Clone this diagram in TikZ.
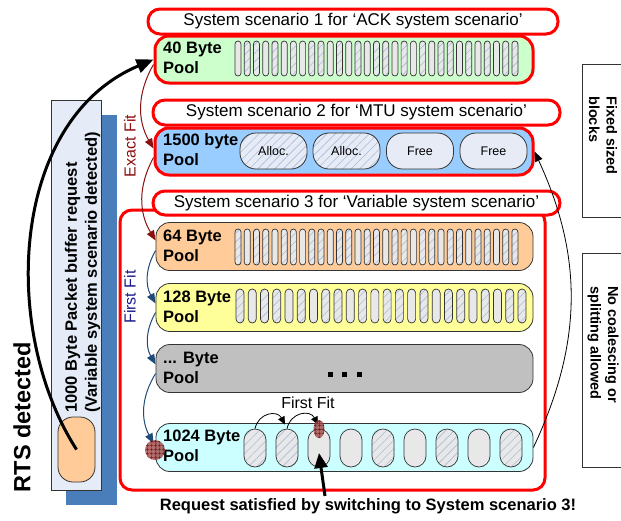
\documentclass[tikz,border=0pt]{standalone}
\usepackage{fontspec}
\setmainfont{Liberation Sans}
\usetikzlibrary{arrows.meta,patterns.meta,shapes.geometric}

\definecolor{poolgreen}{HTML}{CCFFCC}
\definecolor{poolblue}{HTML}{99CCFF}
\definecolor{poolorange}{HTML}{FFCC99}
\definecolor{poolyellow}{HTML}{FFFF99}
\definecolor{poolgray}{HTML}{C0C0C0}
\definecolor{poolcyan}{HTML}{CCFFFF}
\definecolor{slotgray}{HTML}{E8E8E8}
\definecolor{blockfill}{HTML}{E6EBF5}
\definecolor{hatchblue}{HTML}{A8BCDC}
\definecolor{reqfill}{HTML}{E6ECF7}
\definecolor{shadowblue}{HTML}{4A7EBB}
\definecolor{exactred}{HTML}{8B1010}
\definecolor{firstblue}{HTML}{1F4A7A}
\definecolor{firsttext}{HTML}{1A1A8C}
\definecolor{markred}{HTML}{A04848}
\definecolor{gridred}{HTML}{6A0808}
\definecolor{edgegray}{HTML}{333333}

\tikzset{
  scenlabel/.style={draw=red, line width=3pt, fill=white, rounded corners=12pt,
    minimum height=25pt, inner sep=0pt, font=\fontsize{17}{20}\selectfont},
  redpool/.style={draw=red, line width=3pt, rounded corners=14pt,
    minimum width=378pt, minimum height=47pt, inner sep=0pt},
  pool/.style={draw=edgegray, line width=0.8pt, rounded corners=14pt,
    minimum width=377pt, minimum height=48pt, inner sep=0pt},
  poollabel/.style={anchor=west, align=left, inner sep=0pt,
    font=\bfseries\fontsize{16.5}{20}\selectfont},
  slot/.style={draw=edgegray, line width=0.7pt, fill=slotgray, inner sep=0pt},
  hatched/.style={preaction={fill=#1},
    pattern={Lines[angle=45,distance=6pt,line width=0.6pt]}, pattern color=hatchblue},
  hatchif/.code={\ifnum#1=1 \pgfkeysalso{hatched=slotgray}\fi},
  block/.style={draw=edgegray, line width=0.8pt, fill=blockfill, rounded corners=16pt,
    minimum width=67pt, minimum height=36pt, inner sep=0pt,
    font=\fontsize{12.5}{14}\selectfont},
  exactarrow/.style={exactred, line width=1pt, -{Triangle[length=10pt,width=8pt]}},
  firstarrow/.style={firstblue, line width=1pt, -{Triangle[length=10pt,width=8pt]}},
  sidebox/.style={draw=edgegray, line width=0.8pt, fill=white, anchor=north west,
    minimum width=58pt, inner sep=0pt},
  sidetext/.style={rotate=-90, anchor=west, align=left, inner sep=0pt,
    font=\bfseries\fontsize{14.5}{17.5}\selectfont},
  marker/.style={fill=markred, fill opacity=0.8, inner sep=0pt,
    postaction={pattern={Hatch[distance=4pt,line width=0.6pt]}, pattern color=gridred}},
  dotsq/.style={fill=black, minimum size=5pt, inner sep=0pt}
}

\begin{document}
\begin{tikzpicture}[x=1pt,y=-1pt]
\useasboundingbox (0,0) rectangle (621,520);
\clip (0,0) rectangle (621,520);

% scenario 3 container
\node[draw=red, line width=3pt, rounded corners=12pt, minimum width=425pt,
      minimum height=280pt, inner sep=0pt] (sc3) at (332.5,350) {};

% request box with its shadow
\node[fill=shadowblue, minimum width=51pt, minimum height=390pt, inner sep=0pt]
  (reqshadow) at (91.5,310) {};
\node[draw=edgegray, line width=0.8pt, fill=reqfill, minimum width=50pt,
      minimum height=390pt, inner sep=0pt] (req) at (76,295) {};
\node[rotate=90, anchor=west, align=left, inner sep=0pt,
      font=\bfseries\fontsize{16.5}{20}\selectfont] (reqtext) at (82.5,413)
  {1000 Byte Packet buffer request\\(Variable system scenario detected)};
\node[draw=edgegray, line width=0.8pt, fill=poolorange, rounded corners=15pt,
      minimum width=37pt, minimum height=65pt, inner sep=0pt] (cap) at (76.5,449.5) {};
\node[rotate=90, inner sep=0pt, font=\bfseries\fontsize{23.5}{28}\selectfont]
  (rts) at (22,417) {RTS detected};

% pools
\node[redpool, fill=poolgreen] (p40) at (344,59.5) {};
\node[poollabel] (p40t) at (163,58) {40 Byte\\Pool};
\foreach \i in {1,...,31}{
  \pgfmathtruncatemacro\h{mod(\i*\i+2*\i,7)<3}
  \node[slot, hatchif=\h, minimum width=6pt, minimum height=35pt, rounded corners=3pt]
    (sa\i) at ({238+9.23*(\i-1)},58.5) {};
}

\node[redpool, fill=poolblue] (p1500) at (344,151.5) {};
\node[poollabel] (p1500t) at (163,150) {1500 byte\\Pool};
\node[block, hatched=blockfill] (b1) at (273.5,151) {Alloc.};
\node[block, hatched=blockfill] (b2) at (346.5,151) {Alloc.};
\node[block] (b3) at (420,151) {Free};
\node[block] (b4) at (493.5,151) {Free};

\node[pool, fill=poolorange] (p64) at (344.5,246.5) {};
\node[poollabel] (p64t) at (163,246) {64 Byte\\Pool};
\foreach \i in {1,...,31}{
  \pgfmathtruncatemacro\h{mod(\i*\i+5*\i+1,6)<2}
  \node[slot, hatchif=\h, minimum width=6pt, minimum height=36pt, rounded corners=3pt]
    (sb\i) at ({238+9.23*(\i-1)},247) {};
}

\node[pool, fill=poolyellow] (p128) at (344.5,307.5) {};
\node[poollabel] (p128t) at (163,307) {128 Byte\\Pool};
\foreach \i in {1,...,24}{
  \pgfmathtruncatemacro\h{mod(\i*\i+3*\i+2,5)<2}
  \node[slot, hatchif=\h, minimum width=8pt, minimum height=34pt, rounded corners=4pt]
    (sc\i) at ({240+12.26*(\i-1)},306) {};
}

\node[pool, fill=poolgray] (pdots) at (344.5,368.5) {};
\node[poollabel] (pdotst) at (163,368) {... Byte\\Pool};
\node[dotsq] (d1) at (330,374) {};
\node[dotsq] (d2) at (344.5,374) {};
\node[dotsq] (d3) at (359,374) {};

\node[pool, fill=poolcyan] (p1024) at (344.5,447.5) {};
\node[poollabel] (p1024t) at (163,446) {1024 Byte\\Pool};
\foreach \i/\h in {1/1,2/1,3/0,4/0,5/1,6/0,7/1,8/0,9/1}{
  \node[slot, hatchif=\h, minimum width=22pt, minimum height=38pt, rounded corners=11pt]
    (sd\i) at ({255+32*(\i-1)},448) {};
}

% scenario labels
\node[scenlabel, minimum width=410pt] (sc1lab) at (353,21.5)
  {System scenario 1 for ‘ACK system scenario’};
\node[scenlabel, minimum width=407pt] (sc2lab) at (356.5,112.5)
  {System scenario 2 for ‘MTU system scenario’};
\node[scenlabel, minimum width=407pt, minimum height=24pt] (sc3lab) at (356.5,203)
  {System scenario 3 for ‘Variable system scenario’};

% exact fit search
\draw[exactarrow] ([yshift=-5pt]p40.west) to[bend right=30] ([yshift=3pt]p1500.west);
\draw[exactarrow] ([yshift=-6pt]p1500.west) to[bend right=30] ([yshift=6pt]p64.west);
\node[rotate=90, text=exactred, inner sep=0pt, font=\fontsize{16}{20}\selectfont]
  (exact) at (130,146) {Exact Fit};

% first fit search
\draw[firstarrow] ([yshift=-4pt]p64.west) to[bend right=30] ([yshift=4pt]p128.west);
\draw[firstarrow] ([yshift=-5pt]p128.west) to[bend right=30] ([yshift=4pt]pdots.west);
\draw[firstarrow] ([yshift=-5pt]pdots.west) to[bend right=30] ([xshift=-2pt,yshift=4pt]p1024.west);
\node[rotate=90, text=firsttext, inner sep=0pt, font=\fontsize{16}{20}\selectfont]
  (firstfit) at (130,297) {First Fit};

% first fit inside the 1024 byte pool
\node[inner sep=0pt, font=\fontsize{16}{20}\selectfont] (ffsmall) at (308,403) {First Fit};
\draw[line width=0.8pt, -{Triangle[length=8pt,width=7pt]}]
  (sd1.north) to[bend left=70, looseness=1.4] ([xshift=-2pt,yshift=4pt]sd2.north);
\draw[line width=0.8pt, -{Triangle[length=8pt,width=7pt]}]
  (sd2.north) to[bend left=70, looseness=1.4] ([xshift=-1pt,yshift=4pt]sd3.north);

% markers
\node[marker, circle, minimum size=20pt] (mk1) at (155,450) {};
\node[marker, ellipse, minimum width=11pt, minimum height=18pt] (mk2) at (319,429) {};

% return arc to the 1500 byte pool
\draw[line width=0.8pt, -{Triangle[length=10pt,width=8pt]}]
  (p1024.east) to[bend right=25] (p1500.east);

% side notes
\node[sidebox, minimum height=153pt] (fixbox) at (582,64) {};
\node[sidetext] (fixtext) at (603,96) {Fixed sized\\blocks};
\node[sidebox, minimum height=214pt] (nocbox) at (582,253) {};
\node[sidetext] (noctext) at (603,286) {No coalescing or\\splitting allowed};

% bottom note and its arrow
\node[inner sep=0pt, font=\bfseries\fontsize{16.5}{20}\selectfont] (req3) at (368,506)
  {Request satisfied by switching to System scenario 3!};
\coordinate (reqtail) at (325,496);
\draw[line width=3pt, -{Triangle[length=15pt,width=13pt]}] (reqtail) -- ([yshift=-5pt]sd3.center);

% RTS request arrow
\draw[line width=3pt, -{Triangle[length=17pt,width=14pt]}]
  (cap.center) .. controls (0,330) and (10,120) .. (p40.west);
\end{tikzpicture}
\end{document}
